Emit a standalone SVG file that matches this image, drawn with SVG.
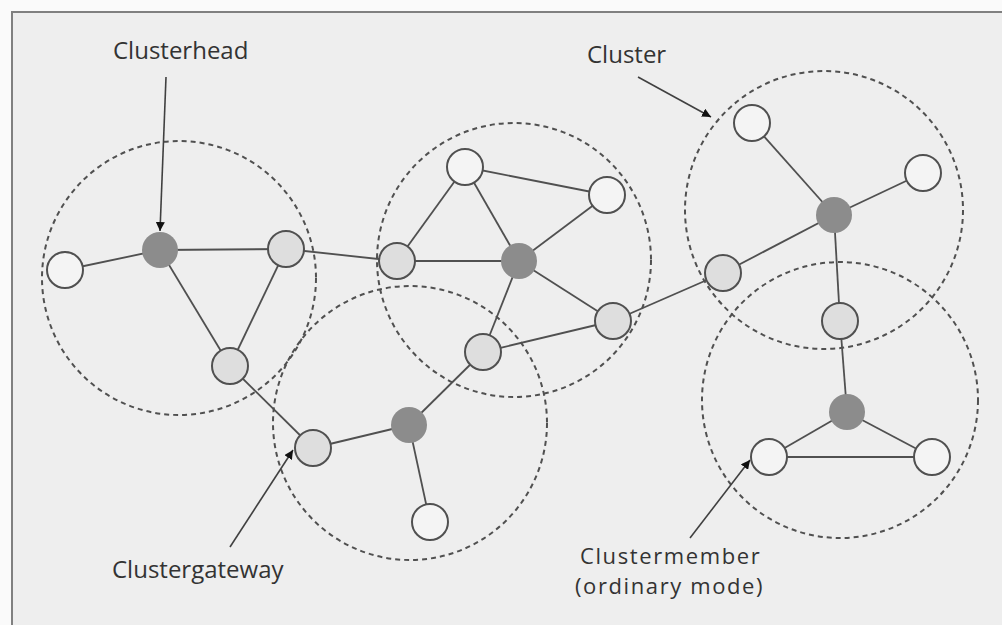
<svg xmlns="http://www.w3.org/2000/svg" width="1002" height="625" viewBox="0 0 1002 625">
<style>
.cl{fill:none;stroke:#505050;stroke-width:2;stroke-dasharray:5 4}
.e{stroke:#505050;stroke-width:1.8;fill:none}
.a{stroke:#404040;stroke-width:1.6;fill:none;marker-end:url(#ah)}
.w{fill:#f4f4f4;stroke:#505050;stroke-width:2}
.g{fill:#dedede;stroke:#505050;stroke-width:2}
.h{fill:#8c8c8c;stroke:none}
text{font-family:"Open Sans","Noto Sans",sans-serif;font-size:24px;fill:#333}
text.sm{font-size:22px;letter-spacing:1.6px}
</style>
<defs>
<marker id="ah" viewBox="0 0 10 10" refX="10" refY="5" markerWidth="9" markerHeight="9" markerUnits="userSpaceOnUse" orient="auto">
<path d="M0,0 L10,5 L0,10 z" fill="#111"/>
</marker>
</defs>
<rect x="0" y="0" width="1002" height="625" fill="#fafafa"/>
<rect x="12" y="12" width="990" height="613" fill="#eeeeee"/>
<path d="M12,625 V12 H1002" fill="none" stroke="#808080" stroke-width="2"/>

<g id="clusters">
<circle class="cl" cx="179" cy="278" r="137"/>
<circle class="cl" cx="514" cy="260" r="137"/>
<circle class="cl" cx="410" cy="423" r="137"/>
<circle class="cl" cx="824" cy="210" r="139"/>
<circle class="cl" cx="840" cy="400" r="138"/>
</g>

<g id="connectors">
<line class="e" x1="65" y1="270" x2="160" y2="250"/>
<line class="e" x1="160" y1="250" x2="286" y2="249"/>
<line class="e" x1="160" y1="250" x2="230" y2="366"/>
<line class="e" x1="286" y1="249" x2="230" y2="366"/>
<line class="e" x1="230" y1="366" x2="313" y2="448"/>
<line class="e" x1="286" y1="249" x2="397" y2="261"/>
<line class="e" x1="397" y1="261" x2="465" y2="167"/>
<line class="e" x1="397" y1="261" x2="519" y2="261"/>
<line class="e" x1="465" y1="167" x2="519" y2="261"/>
<line class="e" x1="465" y1="167" x2="607" y2="195"/>
<line class="e" x1="607" y1="195" x2="519" y2="261"/>
<line class="e" x1="519" y1="261" x2="613" y2="321"/>
<line class="e" x1="519" y1="261" x2="483" y2="352"/>
<line class="e" x1="483" y1="352" x2="613" y2="321"/>
<line class="e" x1="483" y1="352" x2="409" y2="425"/>
<line class="e" x1="313" y1="448" x2="409" y2="425"/>
<line class="e" x1="409" y1="425" x2="430" y2="522"/>
<line class="e" x1="613" y1="321" x2="723" y2="273"/>
<line class="e" x1="723" y1="273" x2="834" y2="215"/>
<line class="e" x1="752" y1="123" x2="834" y2="215"/>
<line class="e" x1="923" y1="173" x2="834" y2="215"/>
<line class="e" x1="834" y1="215" x2="840" y2="321"/>
<line class="e" x1="840" y1="321" x2="847" y2="412"/>
<line class="e" x1="847" y1="412" x2="769" y2="457"/>
<line class="e" x1="847" y1="412" x2="932" y2="457"/>
<line class="e" x1="769" y1="457" x2="932" y2="457"/>
<line class="a" x1="166" y1="77" x2="160" y2="231"/>
<line class="a" x1="638" y1="77" x2="711" y2="117"/>
<line class="a" x1="230" y1="547" x2="293" y2="450"/>
<line class="a" x1="690" y1="538" x2="750" y2="460"/>
</g>

<g id="n-a"><circle class="w" cx="65" cy="270" r="18"/></g>
<g id="n-ch1"><circle class="h" cx="160" cy="250" r="18"/></g>
<g id="n-b"><circle class="g" cx="286" cy="249" r="18"/></g>
<g id="n-c"><circle class="g" cx="230" cy="366" r="18"/></g>
<g id="n-d"><circle class="g" cx="313" cy="448" r="18"/></g>
<g id="n-e"><circle class="g" cx="397" cy="261" r="18"/></g>
<g id="n-f"><circle class="w" cx="465" cy="167" r="18"/></g>
<g id="n-g"><circle class="w" cx="607" cy="195" r="18"/></g>
<g id="n-ch2"><circle class="h" cx="519" cy="261" r="18"/></g>
<g id="n-h"><circle class="g" cx="613" cy="321" r="18"/></g>
<g id="n-i"><circle class="g" cx="483" cy="352" r="18"/></g>
<g id="n-ch3"><circle class="h" cx="409" cy="425" r="18"/></g>
<g id="n-j"><circle class="w" cx="430" cy="522" r="18"/></g>
<g id="n-k"><circle class="w" cx="752" cy="123" r="18"/></g>
<g id="n-l"><circle class="w" cx="923" cy="173" r="18"/></g>
<g id="n-ch4"><circle class="h" cx="834" cy="215" r="18"/></g>
<g id="n-m"><circle class="g" cx="723" cy="273" r="18"/></g>
<g id="n-n"><circle class="g" cx="840" cy="321" r="18"/></g>
<g id="n-ch5"><circle class="h" cx="847" cy="412" r="18"/></g>
<g id="n-o"><circle class="w" cx="769" cy="457" r="18"/></g>
<g id="n-p"><circle class="w" cx="932" cy="457" r="18"/></g>

<g id="labels">
<text x="113" y="59">Clusterhead</text>
<text x="587" y="63">Cluster</text>
<text x="112" y="578">Clustergateway</text>
<text class="sm" x="580" y="564">Clustermember</text>
<text class="sm" x="575" y="594">(ordinary mode)</text>
</g>
</svg>
